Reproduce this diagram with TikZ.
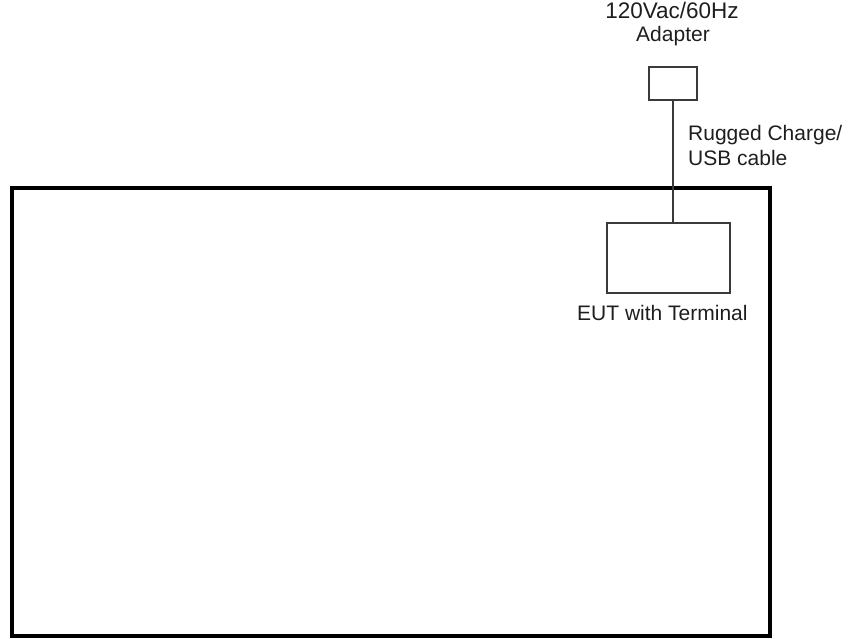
\documentclass[tikz,border=0pt]{standalone}
\usepackage{fontspec}
\setmainfont{Liberation Sans}
\definecolor{txt}{HTML}{1E1E1E}
\definecolor{thin}{HTML}{3A3A3A}
\begin{document}
\begin{tikzpicture}[x=1pt,y=-1pt,
  lbl/.style={text=txt,inner sep=0pt,font=\fontsize{21}{25}\selectfont},
  smallbox/.style={draw=thin,line width=1.6pt,inner sep=0pt},
  bigbox/.style={draw=black,line width=4pt,inner sep=0pt},
  cable/.style={draw=thin,line width=1.6pt}]
\useasboundingbox (0,0) rectangle (850,638);
\node[bigbox,minimum width=758pt,minimum height=448pt] (room) at (391,412) {};
\node[smallbox,minimum width=48pt,minimum height=33pt] (adapter) at (673,83.5) {};
\node[smallbox,minimum width=123pt,minimum height=70pt] (eut) at (668.5,258) {};
\draw[cable] (adapter.south) -- (adapter.south |- eut.north);
\node[lbl,anchor=base,font=\fontsize{22.5}{25}\selectfont] (adtxt1) at (672,18) {120Vac/60Hz};
\node[lbl,anchor=base] (adtxt2) at (673,41) {Adapter};
\node[lbl,anchor=base west] (cbl1) at (688,140) {Rugged Charge/};
\node[lbl,anchor=base west] (cbl2) at (688,165) {USB cable};
\node[lbl,anchor=base west] (euttxt) at (577,320) {EUT with Terminal};
\end{tikzpicture}
\end{document}
